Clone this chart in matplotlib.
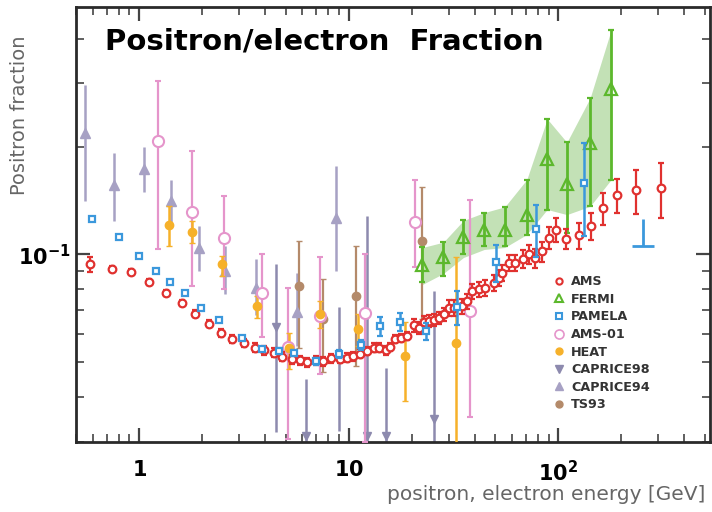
import matplotlib
matplotlib.use("Agg")
import matplotlib.pyplot as plt
from matplotlib.lines import Line2D
from matplotlib.ticker import FixedLocator, FixedFormatter, NullFormatter

# ---------------- data ----------------
ams_x = [0.58, 0.74, 0.92, 1.12, 1.35, 1.60, 1.85, 2.15, 2.47, 2.79,
         3.15, 3.56, 3.95, 4.38, 4.83, 5.35, 5.86, 6.36, 6.96, 7.58,
         8.27, 9.09, 9.78, 10.5, 11.3, 12.3, 13.2, 13.9, 15.0, 15.8,
         16.7, 17.7, 19.0, 20.5, 21.6, 22.8, 24.1, 25.5, 26.9, 28.4,
         30.0, 31.7, 34.8, 36.7, 38.8, 41.7, 44.9, 49.2, 52.0, 53.9,
         58.0, 62.4, 67.9, 72.2, 77.7, 83.6, 90.6, 97.5, 109, 125,
         143, 163, 191, 234, 308]
ams_y = [0.094, 0.0912, 0.0895, 0.0837, 0.0779, 0.0734, 0.0684, 0.0641, 0.0603, 0.0582,
         0.0568, 0.0550, 0.0540, 0.0532, 0.0519, 0.0510, 0.0507, 0.0501, 0.0507, 0.0504,
         0.0513, 0.0512, 0.0516, 0.0521, 0.0529, 0.0538, 0.0550, 0.0550, 0.0541, 0.0552,
         0.0580, 0.0586, 0.0592, 0.0634, 0.0625, 0.0648, 0.0652, 0.0656, 0.0666, 0.0681,
         0.0710, 0.0710, 0.0718, 0.0741, 0.0790, 0.0799, 0.0808, 0.0834, 0.0861, 0.0889,
         0.0948, 0.0948, 0.0973, 0.1000, 0.0979, 0.1021, 0.1113, 0.1174, 0.1106, 0.1130,
         0.1204, 0.1349, 0.1469, 0.1510, 0.1534]
ams_err = [0.0045, 0.0015, 0.0015, 0.0015, 0.0015, 0.0015, 0.0015, 0.0015, 0.0015, 0.0015,
           0.0015, 0.0015, 0.0015, 0.0015, 0.0015, 0.0015, 0.0015, 0.0015, 0.0015, 0.0015,
           0.0015, 0.0015, 0.0015, 0.0015, 0.0015, 0.0015, 0.0015, 0.0015, 0.0015, 0.0015,
           0.0015, 0.0015, 0.0015, 0.0025, 0.0025, 0.0025, 0.0025, 0.0025, 0.0025, 0.0030,
           0.0035, 0.0035, 0.0035, 0.0035, 0.0040, 0.0040, 0.0040, 0.0045, 0.0045, 0.0045,
           0.0050, 0.0050, 0.0055, 0.0060, 0.0060, 0.0065, 0.0078, 0.0090, 0.0073, 0.0097,
           0.0105, 0.0140, 0.0160, 0.0210, 0.0270]

fermi_x = [22.5, 28.3, 35.3, 44.4, 55.6, 70.8, 88.6, 110, 142, 179]
fermi_y = [0.0932, 0.0984, 0.1119, 0.1174, 0.1174, 0.1288, 0.1845, 0.1577, 0.2051, 0.2901]
fermi_lo = [0.0836, 0.0870, 0.1000, 0.1055, 0.1055, 0.1137, 0.1335, 0.1149, 0.1363, 0.1618]
fermi_hi = [0.1046, 0.1082, 0.1244, 0.1309, 0.1358, 0.1618, 0.2388, 0.2055, 0.2732, 0.4234]
fermi_band_lo = [0.0825, 0.0885, 0.0981, 0.1033, 0.1046, 0.1137, 0.1335, 0.1292, 0.1363, 0.1618]
fermi_band_hi = [0.1046, 0.1082, 0.1244, 0.1309, 0.1358, 0.1618, 0.2388, 0.2055, 0.2732, 0.4234]

pamela_x = [0.597, 0.799, 0.995, 1.205, 1.41, 1.66, 1.97, 2.41, 3.09, 3.85,
            4.66, 5.49, 6.96, 8.96, 11.4, 14.05, 17.5, 23.3, 32.9, 50.4,
            78.1, 133]
pamela_y = [0.1260, 0.1119, 0.0990, 0.0902, 0.0839, 0.0779, 0.0707, 0.0655, 0.0586, 0.0546,
            0.0538, 0.0530, 0.0504, 0.0528, 0.0558, 0.0631, 0.0648, 0.0611, 0.0712, 0.0952,
            0.1181, 0.1584]
pamela_err = [0.0, 0.0, 0.0, 0.0, 0.0, 0.0, 0.0, 0.0, 0.0, 0.0,
              0.0010, 0.0010, 0.0012, 0.0015, 0.0018, 0.0037, 0.0038, 0.0032, 0.0077, 0.0113,
              0.0196, 0.0460]
pamela_lim_x = [253]
pamela_lim_y = [0.1055]
pamela_lim_top = [0.1252]
pamela_lim_xlo = [224]
pamela_lim_xhi = [286]

ams01_x = [1.225, 1.79, 2.53, 3.87, 5.11, 7.28, 11.96, 20.8, 38.1]
ams01_y = [0.2068, 0.1315, 0.1113, 0.0780, 0.0551, 0.0675, 0.0688, 0.1229, 0.0696]
ams01_lo = [0.1033, 0.0815, 0.0799, 0.0587, 0.0305, 0.0463, 0.0300, 0.0920, 0.0352]
ams01_hi = [0.304, 0.194, 0.1453, 0.1000, 0.0808, 0.0987, 0.1000, 0.1618, 0.1423]

heat_x = [1.385, 1.79, 2.48, 3.67, 5.20, 7.28, 11.1, 18.6, 32.5]
heat_y = [0.1207, 0.1157, 0.0938, 0.0718, 0.0550, 0.0681, 0.0618, 0.0521, 0.0566]
heat_lo = [0.1055, 0.1078, 0.0870, 0.0666, 0.0478, 0.0625, 0.0555, 0.0390, 0.0290]
heat_hi = [0.1363, 0.1238, 0.0989, 0.0765, 0.0606, 0.0741, 0.0681, 0.0647, 0.0987]

c98_x = [4.49, 6.29, 8.96, 12.3, 15.0, 25.5]
c98_y = [0.0629, 0.0312, 0.0512, 0.0312, 0.0312, 0.0347]
c98_lo = [0.0319, 0.0300, 0.0322, 0.0300, 0.0300, 0.0290]
c98_hi = [0.0938, 0.0449, 0.0712, 0.1279, 0.0484, 0.0790]

c94_x = [0.549, 0.760, 1.056, 1.42, 1.93, 2.58, 3.61, 5.65, 8.68]
c94_y = [0.2177, 0.1567, 0.1736, 0.1408, 0.1044, 0.0899, 0.0808, 0.0691, 0.1265]
c94_lo = [0.1408, 0.1238, 0.1498, 0.1199, 0.0899, 0.0774, 0.0676, 0.0555, 0.0899]
c94_hi = [0.2975, 0.1920, 0.2000, 0.1618, 0.1199, 0.1055, 0.0969, 0.0889, 0.1762]

ts93_x = [5.80, 7.52, 10.86, 22.3]
ts93_y = [0.0816, 0.0659, 0.0766, 0.1094]
ts93_lo = [0.0550, 0.0469, 0.0488, 0.0659]
ts93_hi = [0.1089, 0.0852, 0.1053, 0.1547]

legend_labels = ["AMS", "FERMI", "PAMELA", "AMS-01", "HEAT", "CAPRICE98", "CAPRICE94", "TS93"]
x_ticks = [1, 10, 100]
x_tick_labels = [r"$\mathbf{1}$", r"$\mathbf{10}$", r"$\mathbf{10^{2}}$"]
y_ticks = [0.1]
y_tick_labels = [r"$\mathbf{10^{-1}}$"]

# ---------------- colours ----------------
C_AMS = "#e0312f"
C_FERMI = "#5cb82c"
C_BAND = "#b9dcaa"
C_PAM = "#3b98dc"
C_A01 = "#e595cb"
C_HEAT = "#f6b12a"
C_C98 = "#8d8aae"
C_C94 = "#a7a1c4"
C_TS = "#b48a6a"

fig = plt.figure(figsize=(7.12, 5.12), dpi=100)
ax = fig.add_axes([76 / 712, 70 / 512, 634 / 712, 435 / 512])
ax.set_xscale("log")
ax.set_yscale("log")
ax.set_xlim(0.5, 530)
ax.set_ylim(0.03, 0.49)


def asym(y, lo, hi):
    return [[yi - l for yi, l in zip(y, lo)], [h - yi for yi, h in zip(y, hi)]]


# Fermi band
ax.fill_between(fermi_x, fermi_band_lo, fermi_band_hi, color=C_BAND, alpha=0.85, lw=0, zorder=1)

ax.errorbar(c94_x, c94_y, yerr=asym(c94_y, c94_lo, c94_hi), fmt="^", ms=7,
            color=C_C94, mfc=C_C94, mec=C_C94, elinewidth=1.8, capsize=0, zorder=2)
ax.errorbar(c98_x, c98_y, yerr=asym(c98_y, c98_lo, c98_hi), fmt="v", ms=6,
            color=C_C98, mfc=C_C98, mec=C_C98, elinewidth=1.8, capsize=0, zorder=2)
ax.errorbar(ts93_x, ts93_y, yerr=asym(ts93_y, ts93_lo, ts93_hi), fmt="o", ms=6,
            color=C_TS, mfc=C_TS, mec=C_TS, elinewidth=1.6, capsize=2, zorder=2)
ax.errorbar(ams01_x, ams01_y, yerr=asym(ams01_y, ams01_lo, ams01_hi), fmt="o", ms=8,
            color=C_A01, mfc="white", mec=C_A01, mew=1.5, elinewidth=1.6, capsize=2, zorder=3)
ax.errorbar(heat_x, heat_y, yerr=asym(heat_y, heat_lo, heat_hi), fmt="o", ms=6,
            color=C_HEAT, mfc=C_HEAT, mec=C_HEAT, elinewidth=1.8, capsize=2, zorder=3)
ax.errorbar(fermi_x, fermi_y, yerr=asym(fermi_y, fermi_lo, fermi_hi), fmt="^", ms=8,
            color=C_FERMI, mfc="none", mec=C_FERMI, mew=1.6, elinewidth=2.0, capsize=2, zorder=4)
ax.errorbar(ams_x, ams_y, yerr=ams_err, fmt="o", ms=5.5, color=C_AMS, mfc="white",
            mec=C_AMS, mew=1.6, elinewidth=1.6, capsize=2, zorder=5)
ax.errorbar(pamela_x, pamela_y, yerr=pamela_err, fmt="s", ms=5, color=C_PAM, mfc="white",
            mec=C_PAM, mew=1.6, elinewidth=1.8, capsize=2, zorder=6)
ax.errorbar(pamela_lim_x, pamela_lim_y,
            yerr=[[0], [pamela_lim_top[0] - pamela_lim_y[0]]],
            xerr=[[pamela_lim_x[0] - pamela_lim_xlo[0]], [pamela_lim_xhi[0] - pamela_lim_x[0]]],
            fmt="none", ecolor=C_PAM, elinewidth=2.0, capsize=0, zorder=6)

# axes styling
for s in ax.spines.values():
    s.set_linewidth(2.0)
    s.set_color("#2a2a2a")
ax.xaxis.set_major_locator(FixedLocator(x_ticks))
ax.xaxis.set_major_formatter(FixedFormatter(x_tick_labels))
ax.xaxis.set_minor_formatter(NullFormatter())
ax.yaxis.set_major_locator(FixedLocator(y_ticks))
ax.yaxis.set_major_formatter(FixedFormatter(y_tick_labels))
ax.yaxis.set_minor_formatter(NullFormatter())
ax.tick_params(which="both", direction="in", top=True, right=True, color="#444444")
ax.tick_params(which="major", length=10, width=1.6, labelsize=15)
ax.tick_params(which="minor", length=6, width=1.2)
ax.tick_params(axis="x", which="major", pad=13)
ax.tick_params(axis="y", which="major", pad=4)

# legend
mk = dict(linestyle="none")
handles = [
    Line2D([], [], marker="o", ms=4.5, mfc="white", mec=C_AMS, mew=1.5, **mk),
    Line2D([], [], marker="^", ms=6, mfc="white", mec=C_FERMI, mew=1.5, **mk),
    Line2D([], [], marker="s", ms=4.5, mfc="white", mec=C_PAM, mew=1.5, **mk),
    Line2D([], [], marker="o", ms=6.5, mfc="white", mec=C_A01, mew=1.2, **mk),
    Line2D([], [], marker="o", ms=5, mfc=C_HEAT, mec=C_HEAT, **mk),
    Line2D([], [], marker="v", ms=5.5, mfc=C_C98, mec=C_C98, **mk),
    Line2D([], [], marker="^", ms=5.5, mfc=C_C94, mec=C_C94, **mk),
    Line2D([], [], marker="o", ms=5, mfc=C_TS, mec=C_TS, **mk),
]
leg = ax.legend(handles, legend_labels, loc="upper left", bbox_to_anchor=(0.745, 0.395),
                frameon=False, handlelength=0.9, handletextpad=0.5, labelspacing=0.36,
                borderaxespad=0, prop={"weight": "bold", "size": 9.2})
for t in leg.get_texts():
    t.set_color("#333333")

fig.text(105 / 712, 1 - 42 / 512, "Positron/electron  Fraction", fontsize=21,
         fontweight="bold", ha="left", va="center", color="black")
fig.text(20 / 712, 1 - 115 / 512, "Positron fraction", rotation=90, fontsize=14,
         color="#666666", ha="center", va="center")
fig.text(705 / 712, 1 - 495 / 512, "positron, electron energy [GeV]", fontsize=14.5,
         color="#666666", ha="right", va="center")

fig.savefig("out.png", dpi=100)
